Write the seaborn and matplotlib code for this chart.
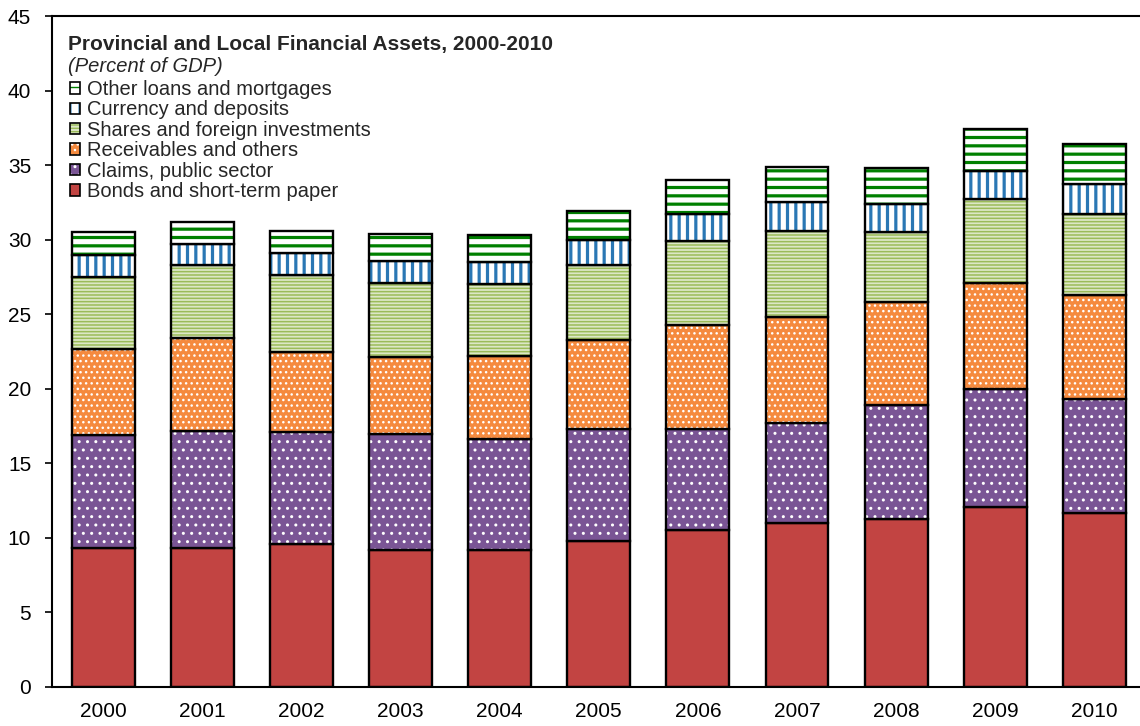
import numpy as np
import matplotlib
matplotlib.use("Agg")
import matplotlib as mpl
import matplotlib.pyplot as plt
import seaborn as sns
from matplotlib.patches import Patch
from matplotlib.legend_handler import HandlerTuple

# Provincial and local financial assets, percent of GDP
years = ["2000", "2001", "2002", "2003", "2004", "2005",
         "2006", "2007", "2008", "2009", "2010"]
bonds = [9.3, 9.3, 9.6, 9.2, 9.2, 9.8, 10.5, 11.0, 11.3, 12.1, 11.7]
claims = [7.6, 7.9, 7.5, 7.8, 7.4, 7.5, 6.8, 6.7, 7.6, 7.9, 7.6]
receivables = [5.8, 6.2, 5.4, 5.1, 5.6, 6.0, 7.0, 7.1, 6.9, 7.1, 7.0]
shares = [4.8, 4.9, 5.1, 5.0, 4.8, 5.0, 5.6, 5.8, 4.7, 5.6, 5.4]
currency = [1.5, 1.4, 1.5, 1.5, 1.5, 1.7, 1.8, 1.9, 1.9, 1.9, 2.0]
other_loans = [1.5, 1.5, 1.5, 1.8, 1.8, 1.95, 2.3, 2.4, 2.4, 2.8, 2.7]

labels = ["Bonds and short-term paper", "Claims, public sector",
          "Receivables and others", "Shares and foreign investments",
          "Currency and deposits", "Other loans and mortgages"]
values = [bonds, claims, receivables, shares, currency, other_loans]

# (face colour, hatch, hatch colour, hatch line width)
styles = [
    ("#C24442", None, None, 0),
    ("#7A5595", "..", "#FFFFFF", 1.0),
    ("#F58A3E", "...", "#FFFFFF", 1.0),
    ("#DCE7C6", "-----", "#9BBB59", 1.1),
    ("#FFFFFF", "||", "#2A77B4", 2.3),
    ("#FFFFFF", "--", "#008000", 2.3),
]

sns.set_theme(style="white")
plt.rcParams["font.family"] = ["Liberation Sans", "DejaVu Sans"]

fig = plt.figure(figsize=(11.4, 7.26), dpi=100)
ax = fig.add_axes([52 / 1140, 39 / 726, 1088 / 1140, 671 / 726])

BAR_W = 0.635
bottom = np.zeros(len(years))
for vals, (face, hatch, hcol, hlw) in zip(values, styles):
    vals = np.asarray(vals, dtype=float)
    common = dict(x=years, y=vals, order=years, width=BAR_W, errorbar=None,
                  saturation=1, ax=ax, bottom=bottom.copy())
    sns.barplot(color=face, linewidth=0, **common)
    if hatch:
        n0 = len(ax.patches)
        with mpl.rc_context({"hatch.linewidth": hlw}):
            sns.barplot(color=hcol, facecolor="none", edgecolor=hcol,
                        hatch=hatch, linewidth=0, **common)
        for p in ax.patches[n0:]:
            if hasattr(p, "set_hatch_linewidth"):
                p.set_hatch_linewidth(hlw)
    sns.barplot(color="black", facecolor="none", edgecolor="black",
                linewidth=1.7, **common)
    bottom += vals

ax.set_xlim(-0.515, 10.46)
ax.set_ylim(0, 45)
ax.set_yticks(np.arange(0, 46, 5))
ax.set_xlabel("")
ax.set_ylabel("")
ax.tick_params(axis="y", direction="out", length=5, width=1.2, pad=10,
               labelsize=15, colors="black", left=True)
ax.tick_params(axis="x", length=0, pad=11, labelsize=15, colors="black")
for side in ("left", "bottom", "top"):
    ax.spines[side].set_visible(True)
    ax.spines[side].set_color("black")
    ax.spines[side].set_linewidth(1.5)
ax.spines["right"].set_visible(False)

# Title block in the upper left, positioned in figure pixels from the top
def px(x, y):
    return x / 1140, 1 - y / 726

fig.text(*px(68, 50), "Provincial and Local Financial Assets, 2000-2010",
         fontsize=15, fontweight="bold", va="baseline", ha="left")
fig.text(*px(68, 72), "(Percent of GDP)", fontsize=14.5,
         style="italic", va="baseline", ha="left")

handles = []
for face, hatch, hcol, hlw in styles:
    parts = [Patch(facecolor=face, edgecolor="none", linewidth=0)]
    if hatch:
        hp = Patch(facecolor="none", edgecolor=hcol, hatch=hatch, linewidth=0)
        if hasattr(hp, "set_hatch_linewidth"):
            hp.set_hatch_linewidth(hlw)
        parts.append(hp)
    parts.append(Patch(facecolor="none", edgecolor="black", linewidth=1.2))
    handles.append(tuple(parts))

leg = ax.legend(handles[::-1], labels[::-1],
                handler_map={tuple: HandlerTuple(ndivide=1, pad=0)},
                loc="upper left", bbox_to_anchor=px(70, 80),
                bbox_transform=fig.transFigure, frameon=False, fontsize=14.5,
                handlelength=0.5, handleheight=0.5, handletextpad=0.35,
                labelspacing=0.07, borderpad=0, borderaxespad=0)

fig.savefig("out.png", dpi=100, facecolor="white")
